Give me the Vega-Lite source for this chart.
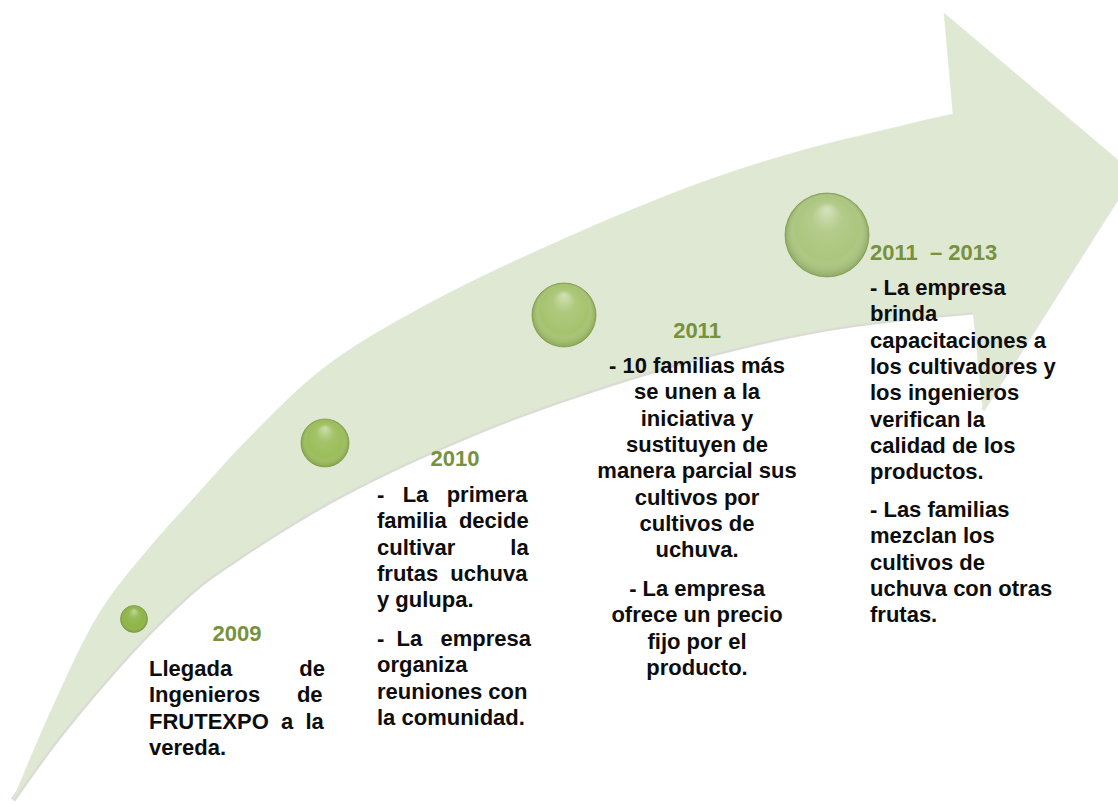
{
  "$schema": "https://vega.github.io/schema/vega-lite/v6.json",
  "width": 1118,
  "height": 805,
  "padding": 0,
  "autosize": "none",
  "background": "#ffffff",
  "config": {"view": {"stroke": null}},
  "datasets": {
    "arrow": [
      {"part": "shaft", "edge": "upper", "i": 1, "x": 13, "y": 800},
      {"part": "shaft", "edge": "upper", "i": 2, "x": 50, "y": 713},
      {"part": "shaft", "edge": "upper", "i": 3, "x": 100, "y": 612},
      {"part": "shaft", "edge": "upper", "i": 4, "x": 150, "y": 547},
      {"part": "shaft", "edge": "upper", "i": 5, "x": 193, "y": 499},
      {"part": "shaft", "edge": "upper", "i": 6, "x": 250, "y": 437},
      {"part": "shaft", "edge": "upper", "i": 7, "x": 325, "y": 367},
      {"part": "shaft", "edge": "upper", "i": 8, "x": 417, "y": 310},
      {"part": "shaft", "edge": "upper", "i": 9, "x": 550, "y": 245},
      {"part": "shaft", "edge": "upper", "i": 10, "x": 700, "y": 183},
      {"part": "shaft", "edge": "upper", "i": 11, "x": 800, "y": 151},
      {"part": "shaft", "edge": "upper", "i": 12, "x": 880, "y": 131},
      {"part": "shaft", "edge": "upper", "i": 13, "x": 953, "y": 114},
      {"part": "shaft", "edge": "inner", "i": 14, "x": 985, "y": 108},
      {"part": "shaft", "edge": "inner", "i": 15, "x": 1005, "y": 210},
      {"part": "shaft", "edge": "inner", "i": 16, "x": 995, "y": 309},
      {"part": "shaft", "edge": "lower", "i": 17, "x": 973, "y": 312},
      {"part": "shaft", "edge": "lower", "i": 18, "x": 900, "y": 319},
      {"part": "shaft", "edge": "lower", "i": 19, "x": 820, "y": 330},
      {"part": "shaft", "edge": "lower", "i": 20, "x": 720, "y": 352},
      {"part": "shaft", "edge": "lower", "i": 21, "x": 620, "y": 381},
      {"part": "shaft", "edge": "lower", "i": 22, "x": 560, "y": 401},
      {"part": "shaft", "edge": "lower", "i": 23, "x": 500, "y": 423},
      {"part": "shaft", "edge": "lower", "i": 24, "x": 447, "y": 445},
      {"part": "shaft", "edge": "lower", "i": 25, "x": 400, "y": 466},
      {"part": "shaft", "edge": "lower", "i": 26, "x": 363, "y": 484},
      {"part": "shaft", "edge": "lower", "i": 27, "x": 320, "y": 507},
      {"part": "shaft", "edge": "lower", "i": 28, "x": 280, "y": 531},
      {"part": "shaft", "edge": "lower", "i": 29, "x": 240, "y": 557},
      {"part": "shaft", "edge": "lower", "i": 30, "x": 200, "y": 585},
      {"part": "shaft", "edge": "lower", "i": 31, "x": 150, "y": 632},
      {"part": "shaft", "edge": "lower", "i": 32, "x": 100, "y": 687},
      {"part": "shaft", "edge": "lower", "i": 33, "x": 55, "y": 742},
      {"part": "shaft", "edge": "lower", "i": 34, "x": 13, "y": 800},
      {"part": "head", "edge": "base", "i": 1, "x": 953, "y": 114},
      {"part": "head", "edge": "top", "i": 2, "x": 944, "y": 13},
      {"part": "head", "edge": "top", "i": 3, "x": 1118, "y": 160},
      {"part": "head", "edge": "lower", "i": 4, "x": 1118, "y": 197},
      {"part": "head", "edge": "lower", "i": 5, "x": 983, "y": 410},
      {"part": "head", "edge": "base", "i": 6, "x": 973, "y": 312}
    ],
    "balls": [
      {"step": 1, "period": "2009", "x": 134, "y": 619},
      {"step": 2, "period": "2010", "x": 325, "y": 443},
      {"step": 3, "period": "2011", "x": 564, "y": 315},
      {"step": 4, "period": "2011 – 2013", "x": 827, "y": 235}
    ],
    "texts": [
      {"block": "2009", "kind": "year", "x": 237, "y": 641, "t": "2009"},
      {"block": "2009", "kind": "body", "x": 149, "y": 676, "t": "Llegada\u00a0\u00a0\u00a0\u00a0\u00a0\u00a0\u00a0\u00a0\u00a0\u00a0\u00a0de|Ingenieros\u00a0\u00a0\u00a0\u00a0\u00a0\u00a0de|FRUTEXPO\u00a0\u00a0a\u00a0\u00a0la|vereda."},
      {"block": "2010", "kind": "year", "x": 455, "y": 466, "t": "2010"},
      {"block": "2010", "kind": "body", "x": 377, "y": 502, "t": "-\u00a0\u00a0\u00a0La\u00a0\u00a0\u00a0primera|familia\u00a0\u00a0decide|cultivar\u00a0\u00a0\u00a0\u00a0\u00a0\u00a0\u00a0\u00a0\u00a0la|frutas\u00a0\u00a0uchuva|y gulupa."},
      {"block": "2010", "kind": "body", "x": 377, "y": 646, "t": "-\u00a0\u00a0La\u00a0\u00a0\u00a0empresa|organiza|reuniones con|la comunidad."},
      {"block": "2011", "kind": "year", "x": 697, "y": 338, "t": "2011"},
      {"block": "2011", "kind": "body", "x": 697, "y": 373, "t": "- 10 familias más|se unen a la|iniciativa y|sustituyen de|manera parcial sus|cultivos por|cultivos de|uchuva."},
      {"block": "2011", "kind": "body", "x": 697, "y": 596, "t": "- La empresa|ofrece un precio|fijo por el|producto."},
      {"block": "2011 – 2013", "kind": "year", "x": 870, "y": 260, "t": "2011\u00a0 – 2013"},
      {"block": "2011 – 2013", "kind": "body", "x": 870, "y": 295, "t": "- La empresa|brinda|capacitaciones a|los cultivadores y|los ingenieros|verifican la|calidad de los|productos."},
      {"block": "2011 – 2013", "kind": "body", "x": 870, "y": 517, "t": "- Las familias|mezclan los|cultivos de|uchuva con otras|frutas."}
    ]
  },
  "encoding": {
    "x": {"field": "x", "type": "quantitative", "scale": {"domain": [0, 1118], "nice": false, "zero": false}, "axis": null},
    "y": {"field": "y", "type": "quantitative", "scale": {"domain": [0, 805], "reverse": true, "nice": false, "zero": false}, "axis": null}
  },
  "layer": [
    {
      "data": {"name": "arrow"},
      "transform": [{"filter": "datum.part == 'shaft' && datum.edge == 'lower'"}],
      "mark": {"type": "line", "interpolate": "catmull-rom", "stroke": "#bfc4b8", "strokeWidth": 5, "opacity": 0.6, "strokeJoin": "round"},
      "encoding": {"order": {"field": "i", "type": "quantitative"}}
    },
    {
      "data": {"name": "arrow"},
      "transform": [{"filter": "datum.part == 'head' && datum.edge == 'lower'"}],
      "mark": {"type": "line", "stroke": "#c8ccc1", "strokeWidth": 4, "opacity": 0.5},
      "encoding": {"order": {"field": "i", "type": "quantitative"}}
    },
    {
      "data": {"name": "arrow"},
      "transform": [{"filter": "datum.part == 'shaft'"}],
      "mark": {"type": "line", "interpolate": "catmull-rom", "fill": "#dfe8d3", "stroke": "#dfe8d3", "strokeWidth": 0.5},
      "encoding": {"order": {"field": "i", "type": "quantitative"}}
    },
    {
      "data": {"name": "arrow"},
      "transform": [{"filter": "datum.part == 'head'"}],
      "mark": {"type": "line", "fill": "#dfe8d3", "stroke": "#dfe8d3", "strokeWidth": 0.5},
      "encoding": {"order": {"field": "i", "type": "quantitative"}}
    },
    {
      "data": {"name": "balls"},
      "mark": {"type": "point", "shape": "circle", "filled": true, "opacity": 1, "stroke": "#86a352", "strokeWidth": 0.8},
      "encoding": {
        "size": {"field": "step", "type": "ordinal", "scale": {"type": "ordinal", "domain": [1, 2, 3, 4], "range": [729, 2304, 4096, 7056]}, "legend": null},
        "color": {"field": "step", "type": "ordinal", "scale": {"domain": [1, 2, 3, 4], "range": ["#8db447", "#9bbd5a", "#a5c36e", "#abc67e"]}, "legend": null}
      }
    },
    {
      "data": {"name": "balls"},
      "mark": {
        "type": "point", "shape": "circle", "filled": true, "opacity": 1, "strokeWidth": 0,
        "fill": {
          "gradient": "radial", "x1": 0.5, "y1": 0.18, "r1": 0, "x2": 0.5, "y2": 0.5, "r2": 0.5,
          "stops": [
            {"offset": 0, "color": "rgba(255,255,255,0.5)"},
            {"offset": 0.35, "color": "rgba(255,255,255,0.1)"},
            {"offset": 0.75, "color": "rgba(255,255,255,0)"},
            {"offset": 1, "color": "rgba(70,95,30,0.28)"}
          ]
        }
      },
      "encoding": {
        "size": {"field": "step", "type": "ordinal", "scale": {"type": "ordinal", "domain": [1, 2, 3, 4], "range": [729, 2304, 4096, 7056]}, "legend": null}
      }
    },
    {
      "data": {"name": "texts"},
      "transform": [
        {"filter": "datum.block == '2011' || (datum.kind == 'year' && datum.block != '2011 – 2013')"},
        {"calculate": "split(datum.t, '|')", "as": "lines"}
      ],
      "mark": {"type": "text", "align": "center", "baseline": "alphabetic", "font": "Liberation Sans", "fontWeight": "bold", "fontSize": 22, "lineHeight": 26.3},
      "encoding": {
        "text": {"field": "lines", "type": "nominal"},
        "color": {"field": "kind", "type": "nominal", "scale": {"domain": ["year", "body"], "range": ["#76923c", "#0d0d0d"]}, "legend": null}
      }
    },
    {
      "data": {"name": "texts"},
      "transform": [
        {"filter": "!(datum.block == '2011' || (datum.kind == 'year' && datum.block != '2011 – 2013'))"},
        {"calculate": "split(datum.t, '|')", "as": "lines"}
      ],
      "mark": {"type": "text", "align": "left", "baseline": "alphabetic", "font": "Liberation Sans", "fontWeight": "bold", "fontSize": 22, "lineHeight": 26.3},
      "encoding": {
        "text": {"field": "lines", "type": "nominal"},
        "color": {"field": "kind", "type": "nominal", "scale": {"domain": ["year", "body"], "range": ["#76923c", "#0d0d0d"]}, "legend": null}
      }
    }
  ],
  "resolve": {"scale": {"color": "independent"}}
}
